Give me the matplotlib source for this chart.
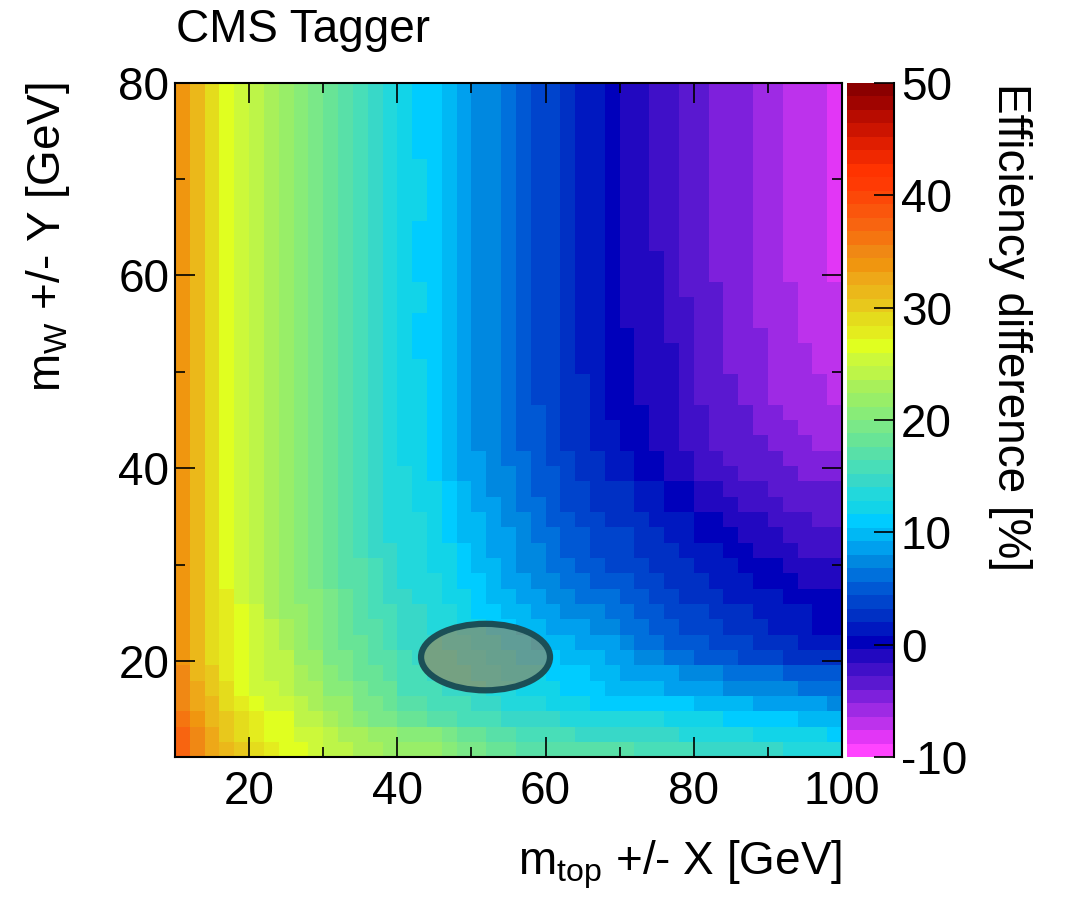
import numpy as np
import matplotlib
matplotlib.use('Agg')
import matplotlib.pyplot as plt
from matplotlib.colors import ListedColormap, BoundaryNorm
from matplotlib.patches import Ellipse

plt.rcParams['font.family'] = ['Liberation Sans', 'DejaVu Sans']
plt.rcParams['mathtext.fontset'] = 'custom'
plt.rcParams['mathtext.rm'] = 'Liberation Sans'
plt.rcParams['mathtext.it'] = 'Liberation Sans'
plt.rcParams['axes.unicode_minus'] = False

# bin edges of the 2D histogram
x_edges = np.linspace(10, 100, 46)   # m_top window, 2 GeV bins
y_edges = np.linspace(10, 80, 45)    # m_W window

# palette step read off each cell (0 = -10 %, 49 = +50 %, 1.2 % per step)
# first line = top row (m_W window ~ 80 GeV), last line = bottom row (10 GeV)
cell_level = [
    [36,34,32,30,29,28,27,26,25,24,23,22,21,20,19, 18,17,17,16,15,14,14,13,12,11,11,10,9,9,8, 7,7,6,6,5,5,4,4,4,3,3,2,2,2,1],
    [36,34,32,30,29,28,27,26,25,24,23,22,21,20,19, 18,17,17,16,15,14,14,13,12,11,11,10,9,9,8, 7,7,6,6,5,5,4,4,4,3,3,2,2,2,1],
    [36,34,32,30,29,28,27,26,25,24,23,22,21,20,19, 18,17,17,16,15,14,14,13,12,11,11,10,9,9,8, 7,7,6,6,5,5,4,4,4,3,3,2,2,2,1],
    [36,34,32,30,29,28,27,26,25,24,23,22,21,20,19, 18,17,17,16,15,14,14,13,12,11,11,10,9,9,8, 7,7,6,6,5,5,4,4,4,3,3,2,2,2,1],
    [36,34,32,30,29,28,27,26,25,24,23,22,21,20,19, 18,17,17,16,15,14,14,13,12,11,11,10,9,9,8, 7,7,6,6,5,5,4,4,4,3,3,2,2,2,1],
    [36,34,32,30,29,28,27,26,25,24,23,22,21,20,19, 18,18,17,16,15,14,14,13,12,11,11,10,9,9,8, 7,7,6,6,5,5,4,4,4,3,3,2,2,2,1],
    [36,34,32,30,29,28,27,26,25,24,23,22,21,20,19, 18,18,17,16,15,14,14,13,12,11,11,10,9,9,8, 7,7,6,6,5,5,4,4,4,3,3,2,2,2,1],
    [36,34,32,30,29,28,27,26,25,24,23,22,21,20,19, 18,18,17,16,15,14,14,13,12,11,11,10,9,9,8, 7,7,6,6,5,5,4,4,4,3,3,2,2,2,1],
    [36,34,32,30,29,28,27,26,25,24,23,22,21,20,19, 18,18,17,16,15,14,14,13,12,11,11,10,9,9,8, 7,7,6,6,5,5,4,4,4,3,3,2,2,2,1],
    [36,34,32,30,29,28,27,26,25,24,23,22,21,20,19, 18,17,17,16,15,14,14,13,12,11,11,10,9,9,8, 7,7,6,6,5,5,4,4,4,3,3,2,2,2,1],
    [36,34,32,30,29,28,27,26,25,24,23,22,21,20,19, 18,17,17,16,15,14,14,13,12,11,11,10,9,9,8, 7,7,6,6,5,5,4,4,4,3,3,2,2,2,1],
    [36,34,32,30,29,28,27,26,25,24,23,22,21,20,19, 18,17,17,16,15,14,14,13,12,11,11,10,9,9,8, 7,7,7,6,5,5,4,4,4,3,3,2,2,2,1],
    [36,34,32,30,29,28,27,26,25,24,23,22,21,20,19, 18,17,17,16,15,14,14,13,12,11,11,10,9,9,8, 7,7,7,6,5,5,4,4,4,3,3,2,2,2,1],
    [36,34,32,30,29,28,27,26,25,24,23,22,21,20,19, 18,18,17,16,15,14,14,13,12,11,11,10,9,9,8, 7,7,7,6,5,5,5,4,4,3,3,3,2,2,2],
    [36,34,32,30,29,28,27,26,25,24,23,22,21,20,19, 18,18,17,16,15,14,14,13,12,11,11,10,9,9,8, 7,7,7,6,6,5,5,4,4,3,3,3,2,2,2],
    [36,34,32,30,29,28,27,26,25,24,23,22,21,20,19, 18,17,17,16,15,14,14,13,12,11,11,10,9,9,8, 7,7,7,6,6,5,5,4,4,3,3,3,2,2,2],
    [36,34,32,30,29,28,27,26,25,24,23,22,21,20,19, 18,17,17,16,15,14,14,13,12,11,11,10,9,9,8, 8,7,7,6,6,5,5,4,4,4,3,3,2,2,2],
    [36,34,32,30,29,28,27,26,25,24,23,22,21,20,19, 18,17,17,16,15,14,14,13,12,11,11,10,9,9,8, 8,7,7,7,6,5,5,4,4,4,3,3,3,2,2],
    [36,34,32,30,29,28,27,26,25,24,23,22,21,20,19, 18,18,17,16,15,14,14,13,12,11,11,10,9,9,8, 8,7,7,7,6,5,5,4,4,4,3,3,3,2,2],
    [36,34,32,30,29,28,27,26,25,24,23,22,21,20,19, 18,18,17,16,15,14,14,13,12,11,11,10,10,9,8, 8,7,7,7,6,5,5,5,4,4,3,3,3,3,2],
    [36,34,32,30,29,28,27,26,25,24,23,22,21,20,19, 18,18,17,16,15,14,14,13,12,11,11,10,10,9,8, 8,7,7,7,6,5,5,5,4,4,3,3,3,3,2],
    [36,34,32,30,29,28,27,26,25,24,23,22,21,20,19, 18,18,17,16,15,14,14,13,12,12,11,10,10,9,8, 8,8,7,7,6,6,5,5,5,4,4,3,3,3,3],
    [36,34,32,30,29,28,27,26,25,24,23,22,21,20,19, 18,18,17,16,15,14,14,13,12,12,11,10,10,9,9, 8,8,7,7,6,6,5,5,5,4,4,4,3,3,3],
    [36,34,32,30,29,28,27,26,25,24,23,22,21,20,19, 18,18,17,16,15,14,14,13,12,12,11,10,10,9,9, 8,8,7,7,6,6,5,5,5,5,4,4,4,3,3],
    [36,34,32,30,29,28,27,26,25,24,23,22,21,20,19, 18,18,17,16,15,15,14,13,13,12,11,11,10,10,9, 9,8,8,7,7,6,6,5,5,5,5,4,4,4,4],
    [36,34,32,30,29,28,27,26,25,24,23,22,21,20,19, 19,18,17,16,15,15,14,14,13,12,12,11,10,10,9, 9,8,8,7,7,6,6,6,5,5,5,5,4,4,4],
    [36,34,32,30,29,28,27,26,25,24,23,22,21,20,19, 19,18,18,17,16,15,14,14,13,12,12,11,11,10,10, 10,9,9,8,8,7,7,6,6,6,5,5,5,5,5],
    [36,34,32,30,29,28,27,26,25,24,23,22,21,20,19, 19,18,18,17,16,15,15,14,13,13,12,11,11,10,10, 10,9,9,8,8,7,7,7,6,6,6,5,5,5,5],
    [36,34,32,30,29,28,27,26,25,24,23,22,21,20,19, 19,19,18,17,16,16,15,14,14,13,12,12,11,11,10, 10,10,9,9,9,8,8,7,7,7,6,6,6,5,5],
    [36,34,32,30,29,28,27,26,25,24,23,22,21,20,19, 19,19,18,17,16,16,15,15,14,13,13,12,12,11,11, 11,10,10,9,9,8,8,8,7,7,7,6,6,6,6],
    [36,34,32,30,29,28,27,26,25,24,23,22,21,20,20, 19,19,18,18,17,16,15,15,14,14,13,12,12,11,11, 11,10,10,10,9,9,9,8,8,7,7,7,6,6,6],
    [36,34,32,30,29,28,27,26,25,24,23,22,22,21,20, 19,19,18,18,17,16,16,15,14,14,13,13,12,12,11, 11,11,10,10,10,9,9,9,8,8,8,7,7,7,7],
    [36,34,32,30,29,28,27,26,25,24,23,22,22,21,20, 19,19,19,18,17,17,16,15,15,14,14,13,13,12,12, 12,11,11,10,10,10,9,9,9,8,8,8,7,7,7],
    [36,34,32,31,29,28,27,26,25,25,24,23,22,21,20, 20,19,19,18,18,17,16,16,15,15,14,14,13,13,13, 12,12,11,11,10,10,10,9,9,9,9,8,8,8,8],
    [36,34,32,31,30,29,27,26,26,25,24,23,22,21,21, 20,20,19,19,18,17,17,16,16,15,15,14,14,14,13, 13,12,12,11,11,11,10,10,10,9,9,9,9,8,8],
    [36,34,32,31,30,29,28,27,26,25,24,23,22,22,21, 20,20,19,19,18,18,17,17,16,16,15,15,15,14,14, 13,13,12,12,11,11,11,10,10,10,9,9,9,8,8],
    [36,34,32,31,30,29,28,27,26,25,24,23,23,22,21, 20,20,20,19,19,18,18,17,17,16,16,16,15,15,15, 14,13,13,12,12,12,11,11,11,10,10,10,9,9,9],
    [36,34,32,31,30,29,28,28,26,26,24,24,23,22,22, 21,20,20,20,19,19,18,18,17,17,17,16,16,16,15, 15,14,14,13,13,12,12,12,11,11,11,10,10,10,10],
    [37,34,33,31,30,29,28,28,27,26,25,24,23,23,22, 21,21,20,20,20,19,19,18,18,18,17,17,17,16,16, 15,15,15,15,14,14,14,13,13,13,13,12,12,12,12],
    [37,35,33,32,30,29,29,28,27,27,25,25,24,23,23, 21,21,21,20,20,20,19,19,18,18,18,17,17,17,16, 16,16,16,15,15,15,15,14,14,14,14,14,13,13,13],
    [37,35,34,32,31,30,29,29,28,27,26,26,24,24,23, 22,22,21,21,21,20,20,19,19,19,18,18,18,17,17, 17,17,17,17,17,16,16,16,16,15,15,15,15,15,14],
    [38,36,34,33,32,31,30,30,28,28,27,26,25,24,24, 23,23,22,22,21,21,21,20,20,20,20,19,19,19,19, 19,19,19,18,18,18,18,17,17,17,17,17,16,16,16],
    [39,37,35,33,32,31,30,30,29,29,28,27,27,26,26, 25,25,25,24,23,23,22,22,21,21,21,21,20,20,20, 20,20,20,20,19,19,19,19,19,18,18,18,18,18,17],
    [39,37,35,34,33,32,31,30,30,29,28,28,27,27,26, 26,26,26,25,24,24,23,23,22,22,22,22,22,22,22, 22,21,21,21,21,20,20,20,20,20,20,19,19,19,19],
]

# ellipse marking the chosen working point
ell_center = (51.9, 20.4)
ell_width = 17.4
ell_height = 6.9

# ROOT-like 50 colour palette (-10 .. 50 %)
palette = [
    '#ff44ff', '#e236f6', '#bd32ec', '#9e2ae4', '#7e20dc', '#5a18d0', '#4010c8', '#2208c0',
    '#0000bb', '#0018c0', '#0030c4', '#0044cc', '#0058d4', '#0070dc', '#0088e0', '#00a0ee',
    '#00b8f4', '#00ccff', '#12d4e8', '#22d8dc', '#38d8c8', '#48deb8', '#58e0a8', '#68e496',
    '#7ae888', '#88ec78', '#98ee68', '#a8f05a', '#bdf548', '#ccf93a', '#e0ff20', '#e4ec1e',
    '#e4dc1c', '#e8c81c', '#ebb81a', '#eea818', '#f0960f', '#f08814', '#f57510', '#f86410',
    '#fa560c', '#fc4808', '#ff3a04', '#ff3300', '#f02800', '#e01e00', '#cc1400', '#b80c00',
    '#a00400', '#8b0000',
]

def main():
    lev = np.array(cell_level[::-1], dtype=float)
    eff = -10 + 1.2 * (lev + 0.5)

    cmap = ListedColormap(palette)
    norm = BoundaryNorm(np.linspace(-10, 50, 51), cmap.N)

    W, H = 1065, 901
    fig = plt.figure(figsize=(W / 100, H / 100), dpi=100)
    ax = fig.add_axes([175 / W, 1 - 757.3 / H, 667 / W, 674.6 / H])
    cax = fig.add_axes([847 / W, 1 - 757.3 / H, 47 / W, 674.6 / H])

    mesh = ax.pcolormesh(x_edges, y_edges, eff, cmap=cmap, norm=norm)
    ax.set_xlim(10, 100)
    ax.set_ylim(10, 80)

    ax.add_patch(Ellipse(ell_center, ell_width, ell_height, facecolor='#9c8058',
                         alpha=0.62, edgecolor='none', zorder=3))
    ax.add_patch(Ellipse(ell_center, ell_width, ell_height, facecolor='none',
                         edgecolor='#1b4f57', lw=4.5, zorder=4))

    fs = 33
    ax.set_xticks([20, 40, 60, 80, 100])
    ax.set_yticks([20, 40, 60, 80])
    ax.set_xticks([10, 30, 50, 70, 90], minor=True)
    ax.set_yticks([10, 30, 50, 70], minor=True)
    ax.tick_params(which='both', direction='in', top=True, right=True, width=1.2,
                   labelsize=fs)
    ax.tick_params(which='major', length=14.5)
    ax.tick_params(which='minor', length=7)
    ax.tick_params(axis='x', pad=9)
    ax.tick_params(axis='y', pad=4)
    for s in ax.spines.values():
        s.set_linewidth(1.5)

    ax.set_xlabel(r'm$_{\rm top}$ +/- X [GeV]', fontsize=fs, ha='right', x=1.0)
    ax.set_ylabel(r'm$_{\rm W}$ +/- Y [GeV]', fontsize=fs, ha='right', y=1.0)
    ax.xaxis.set_label_coords(1.0, -0.12)
    ax.yaxis.set_label_coords(-0.155, 1.0)

    fig.text(176 / W, 1 - 30 / H, 'CMS Tagger', fontsize=fs, va='center', ha='left')

    cb = fig.colorbar(mesh, cax=cax, ticks=[-10, 0, 10, 20, 30, 40, 50])
    cb.outline.set_visible(False)
    cax.plot([1, 1], [0, 1], transform=cax.transAxes, color='k', lw=1.5, clip_on=False)
    cax.tick_params(direction='in', length=14.5, width=1.2, labelsize=fs, pad=5)
    cax.minorticks_off()
    fig.text(1010 / W, 1 - 83 / H, 'Efficiency difference [%]', fontsize=fs,
             rotation=-90, ha='center', va='top')

    fig.savefig('out.png', dpi=100)
    plt.close(fig)


if __name__ == '__main__':
    main()
